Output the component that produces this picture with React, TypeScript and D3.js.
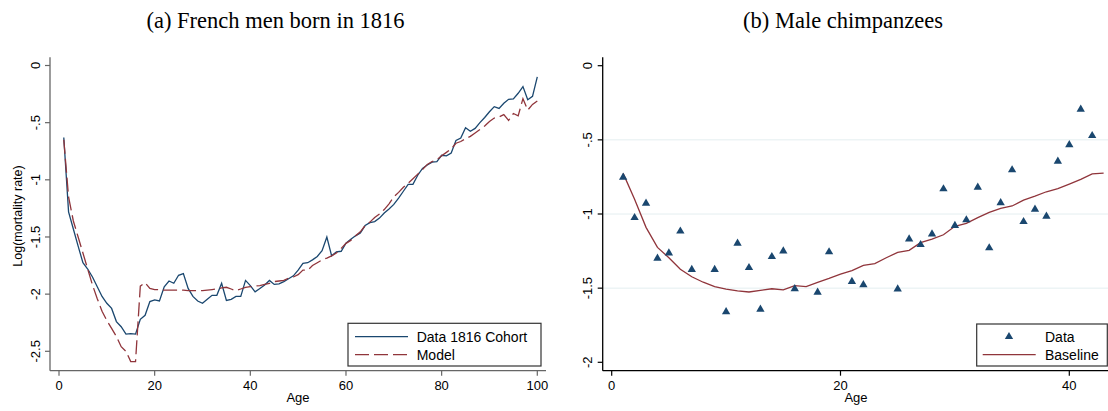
import React from "react";
import * as d3 from "d3";

// ---------- Panel (a): French men born in 1816 ----------
const ageA: number[] = Array.from({ length: 100 }, (_, i) => i + 1);
const dataCohort: number[] = [
  -0.63, -1.28, -1.43, -1.58, -1.725, -1.78, -1.85, -1.935, -2.02, -2.08,
  -2.125, -2.24, -2.285, -2.35, -2.345, -2.35, -2.22, -2.185, -2.065, -2.05,
  -2.06, -1.935, -1.885, -1.905, -1.835, -1.82, -1.95, -2.02, -2.06, -2.08,
  -2.045, -2.01, -2.01, -1.905, -2.055, -2.045, -2.02, -2.02, -1.88, -1.925,
  -1.98, -1.95, -1.92, -1.88, -1.915, -1.91, -1.89, -1.865, -1.84, -1.79,
  -1.73, -1.725, -1.7, -1.67, -1.62, -1.5, -1.665, -1.63, -1.625, -1.555,
  -1.52, -1.49, -1.465, -1.4, -1.375, -1.365, -1.335, -1.29, -1.255, -1.215,
  -1.16, -1.1, -1.04, -1.04, -0.96, -0.9, -0.87, -0.845, -0.84, -0.785,
  -0.79, -0.765, -0.655, -0.635, -0.545, -0.575, -0.55, -0.5, -0.455, -0.405,
  -0.36, -0.375, -0.33, -0.296, -0.293, -0.243, -0.185, -0.3, -0.27, -0.1,
];
const dataModel: number[] = [
  -0.65, -1.15, -1.36, -1.5, -1.64, -1.78, -1.92, -2.04, -2.15, -2.23,
  -2.3, -2.37, -2.46, -2.5, -2.59, -2.59, -1.93, -1.9, -1.95, -1.96,
  -1.96, -1.965, -1.965, -1.965, -1.965, -1.965, -1.97, -1.97, -1.97, -1.97,
  -1.965, -1.96, -1.955, -1.945, -1.94, -1.955, -1.97, -1.955, -1.94, -1.935,
  -1.93, -1.925, -1.915, -1.905, -1.89, -1.885, -1.88, -1.86, -1.85, -1.83,
  -1.79, -1.79, -1.75, -1.725, -1.7, -1.685, -1.665, -1.64, -1.6, -1.556,
  -1.53, -1.49, -1.455, -1.4, -1.37, -1.33, -1.3, -1.26, -1.21, -1.15,
  -1.11, -1.065, -1.03, -0.99, -0.95, -0.91, -0.865, -0.84, -0.825, -0.79,
  -0.76, -0.73, -0.68, -0.665, -0.64, -0.62, -0.59, -0.56, -0.53, -0.49,
  -0.46, -0.45, -0.43, -0.48, -0.42, -0.44, -0.29, -0.39, -0.34, -0.31,
];
const xTicksA: number[] = [0, 20, 40, 60, 80, 100];
const yTicksA: number[] = [0, -0.5, -1, -1.5, -2, -2.5];

// ---------- Panel (b): Male chimpanzees ----------
const ageChimp: number[] = [
  1, 2, 3, 4, 5, 6, 7, 9, 10, 11, 12, 13, 14, 15, 16, 18, 19, 21, 22, 25,
  26, 27, 28, 29, 30, 31, 32, 33, 34, 35, 36, 37, 38, 39, 40, 41, 42,
];
const dataChimp: number[] = [
  -0.753, -1.025, -0.928, -1.299, -1.263, -1.116, -1.375, -1.375, -1.659, -1.198,
  -1.362, -1.643, -1.288, -1.25, -1.504, -1.528, -1.256, -1.456, -1.477, -1.506,
  -1.169, -1.207, -1.135, -0.831, -1.078, -1.04, -0.82, -1.229, -0.924, -0.703,
  -1.052, -0.968, -1.016, -0.645, -0.533, -0.294, -0.472,
];
const ageBase: number[] = Array.from({ length: 43 }, (_, i) => i + 1);
const dataBaseline: number[] = [
  -0.726, -0.9, -1.09, -1.225, -1.295, -1.373, -1.423, -1.46, -1.49, -1.506,
  -1.519, -1.526, -1.515, -1.504, -1.511, -1.483, -1.49, -1.461, -1.434, -1.405,
  -1.382, -1.346, -1.335, -1.295, -1.259, -1.245, -1.193, -1.169, -1.14, -1.083,
  -1.063, -1.025, -0.989, -0.962, -0.946, -0.906, -0.879, -0.85, -0.829, -0.798,
  -0.766, -0.73, -0.724,
];
const xTicksB: number[] = [0, 20, 40];
const yTicksB: number[] = [0, -0.5, -1, -1.5, -2];
const gridB: number[] = [-0.5, -1, -1.5];

const fmt = (v: number) => (v === 0 ? "0" : String(v).replace("0.", "."));

const NAVY = "#1a476f";
const MAROON = "#90353b";
const SANS = "'Liberation Sans', Arial, sans-serif";
const SERIF = "'Liberation Serif', 'Times New Roman', serif";

export default function App() {
  // Panel A scales
  const xA = d3.scaleLinear().domain([0, 100]).range([59, 537.3]);
  const yA = d3.scaleLinear().domain([0, -2.5]).range([65.5, 351.3]);
  const lineA = d3
    .line<number>()
    .x((_, i) => xA(ageA[i]))
    .y((d) => yA(d));

  // Panel B scales
  const xB = d3.scaleLinear().domain([0, 40]).range([611.7, 1069.3]);
  const yB = d3.scaleLinear().domain([0, -2]).range([65.7, 362.3]);
  const lineB = d3
    .line<number>()
    .x((_, i) => xB(ageBase[i]))
    .y((d) => yB(d));
  const tri = d3.symbol(d3.symbolTriangle, 30)() as string;

  const axisA = "#666666";
  const axisB = "#000000";
  const plotBottom = 370.7;
  const plotTop = 57.3;

  return (
    <svg
      width={1108}
      height={411}
      style={{ position: "absolute", left: 0, top: 0, background: "#fff" }}
    >
      <rect x={0} y={0} width={1108} height={411} fill="#fff" />
      {/* Titles */}
      <text x={275.5} y={28} textAnchor="middle" fontFamily={SERIF} fontSize={22.5} fill="#000">
        (a) French men born in 1816
      </text>
      <text x={843} y={28} textAnchor="middle" fontFamily={SERIF} fontSize={22.5} fill="#000">
        (b) Male chimpanzees
      </text>

      {/* ---------- Panel A ---------- */}
      <line x1={50} x2={50} y1={plotTop} y2={plotBottom} stroke={axisA} strokeWidth={1.3} />
      <line x1={50} x2={546} y1={plotBottom} y2={plotBottom} stroke={axisA} strokeWidth={1.3} />
      {yTicksA.map((t) => (
        <g key={"ya" + t}>
          <line x1={45} x2={50} y1={yA(t)} y2={yA(t)} stroke={axisA} strokeWidth={1.2} />
          <text
            transform={`translate(39.5,${yA(t)}) rotate(-90)`}
            textAnchor="middle"
            fontFamily={SANS}
            fontSize={13}
            fill="#000"
          >
            {fmt(t)}
          </text>
        </g>
      ))}
      {xTicksA.map((t) => (
        <g key={"xa" + t}>
          <line x1={xA(t)} x2={xA(t)} y1={plotBottom} y2={plotBottom + 5} stroke={axisA} strokeWidth={1.2} />
          <text x={xA(t)} y={390} textAnchor="middle" fontFamily={SANS} fontSize={13} fill="#000">
            {t}
          </text>
        </g>
      ))}
      <text x={298} y={402} textAnchor="middle" fontFamily={SANS} fontSize={13} fill="#000">
        Age
      </text>
      <text
        transform="translate(22,216) rotate(-90)"
        textAnchor="middle"
        fontFamily={SANS}
        fontSize={12.5}
        fill="#000"
      >
        Log(mortality rate)
      </text>
      <path d={lineA(dataCohort) || ""} fill="none" stroke={NAVY} strokeWidth={1.3} />
      <path
        d={lineA(dataModel) || ""}
        fill="none"
        stroke={MAROON}
        strokeWidth={1.3}
        strokeDasharray="14 5"
      />
      {/* Legend A */}
      <rect x={348} y={323.3} width={193} height={42.7} fill="#fff" stroke="#333" strokeWidth={1.2} />
      <line x1={355} x2={408} y1={336.7} y2={336.7} stroke={NAVY} strokeWidth={1.3} />
      <line x1={355} x2={408} y1={354.7} y2={354.7} stroke={MAROON} strokeWidth={1.3} strokeDasharray="14 5" />
      <text x={416.7} y={341.7} fontFamily={SANS} fontSize={14} fill="#000">
        Data 1816 Cohort
      </text>
      <text x={416.7} y={359.7} fontFamily={SANS} fontSize={14} fill="#000">
        Model
      </text>

      {/* ---------- Panel B ---------- */}
      {gridB.map((g) => (
        <line key={"g" + g} x1={603} x2={1108} y1={yB(g)} y2={yB(g)} stroke="#e4eef0" strokeWidth={1} />
      ))}
      <line x1={602.7} x2={602.7} y1={plotTop} y2={plotBottom} stroke={axisB} strokeWidth={1.3} />
      <line x1={602.7} x2={1108} y1={plotBottom} y2={plotBottom} stroke={axisB} strokeWidth={1.3} />
      {yTicksB.map((t) => (
        <g key={"yb" + t}>
          <line x1={597.7} x2={602.7} y1={yB(t)} y2={yB(t)} stroke={axisB} strokeWidth={1.2} />
          <text
            transform={`translate(592,${yB(t)}) rotate(-90)`}
            textAnchor="middle"
            fontFamily={SANS}
            fontSize={13}
            fill="#000"
          >
            {fmt(t)}
          </text>
        </g>
      ))}
      {xTicksB.map((t) => (
        <g key={"xb" + t}>
          <line x1={xB(t)} x2={xB(t)} y1={plotBottom} y2={plotBottom + 5} stroke={axisB} strokeWidth={1.2} />
          <text x={xB(t)} y={390} textAnchor="middle" fontFamily={SANS} fontSize={13} fill="#000">
            {t}
          </text>
        </g>
      ))}
      <text x={856} y={402} textAnchor="middle" fontFamily={SANS} fontSize={13} fill="#000">
        Age
      </text>
      <path d={lineB(dataBaseline) || ""} fill="none" stroke={MAROON} strokeWidth={1.3} />
      {dataChimp.map((v, i) => (
        <path
          key={"p" + i}
          d={tri}
          transform={`translate(${xB(ageChimp[i])},${yB(v)})`}
          fill={NAVY}
        />
      ))}
      {/* Legend B */}
      <rect x={976.7} y={324} width={130.6} height={42} fill="#fff" stroke="#333" strokeWidth={1.2} />
      <path d={tri} transform="translate(1009,336.7)" fill={NAVY} />
      <line x1={982.7} x2={1035.7} y1={354.7} y2={354.7} stroke={MAROON} strokeWidth={1.3} />
      <text x={1045} y={341.7} fontFamily={SANS} fontSize={14} fill="#000">
        Data
      </text>
      <text x={1045} y={359.7} fontFamily={SANS} fontSize={14} fill="#000">
        Baseline
      </text>
    </svg>
  );
}
